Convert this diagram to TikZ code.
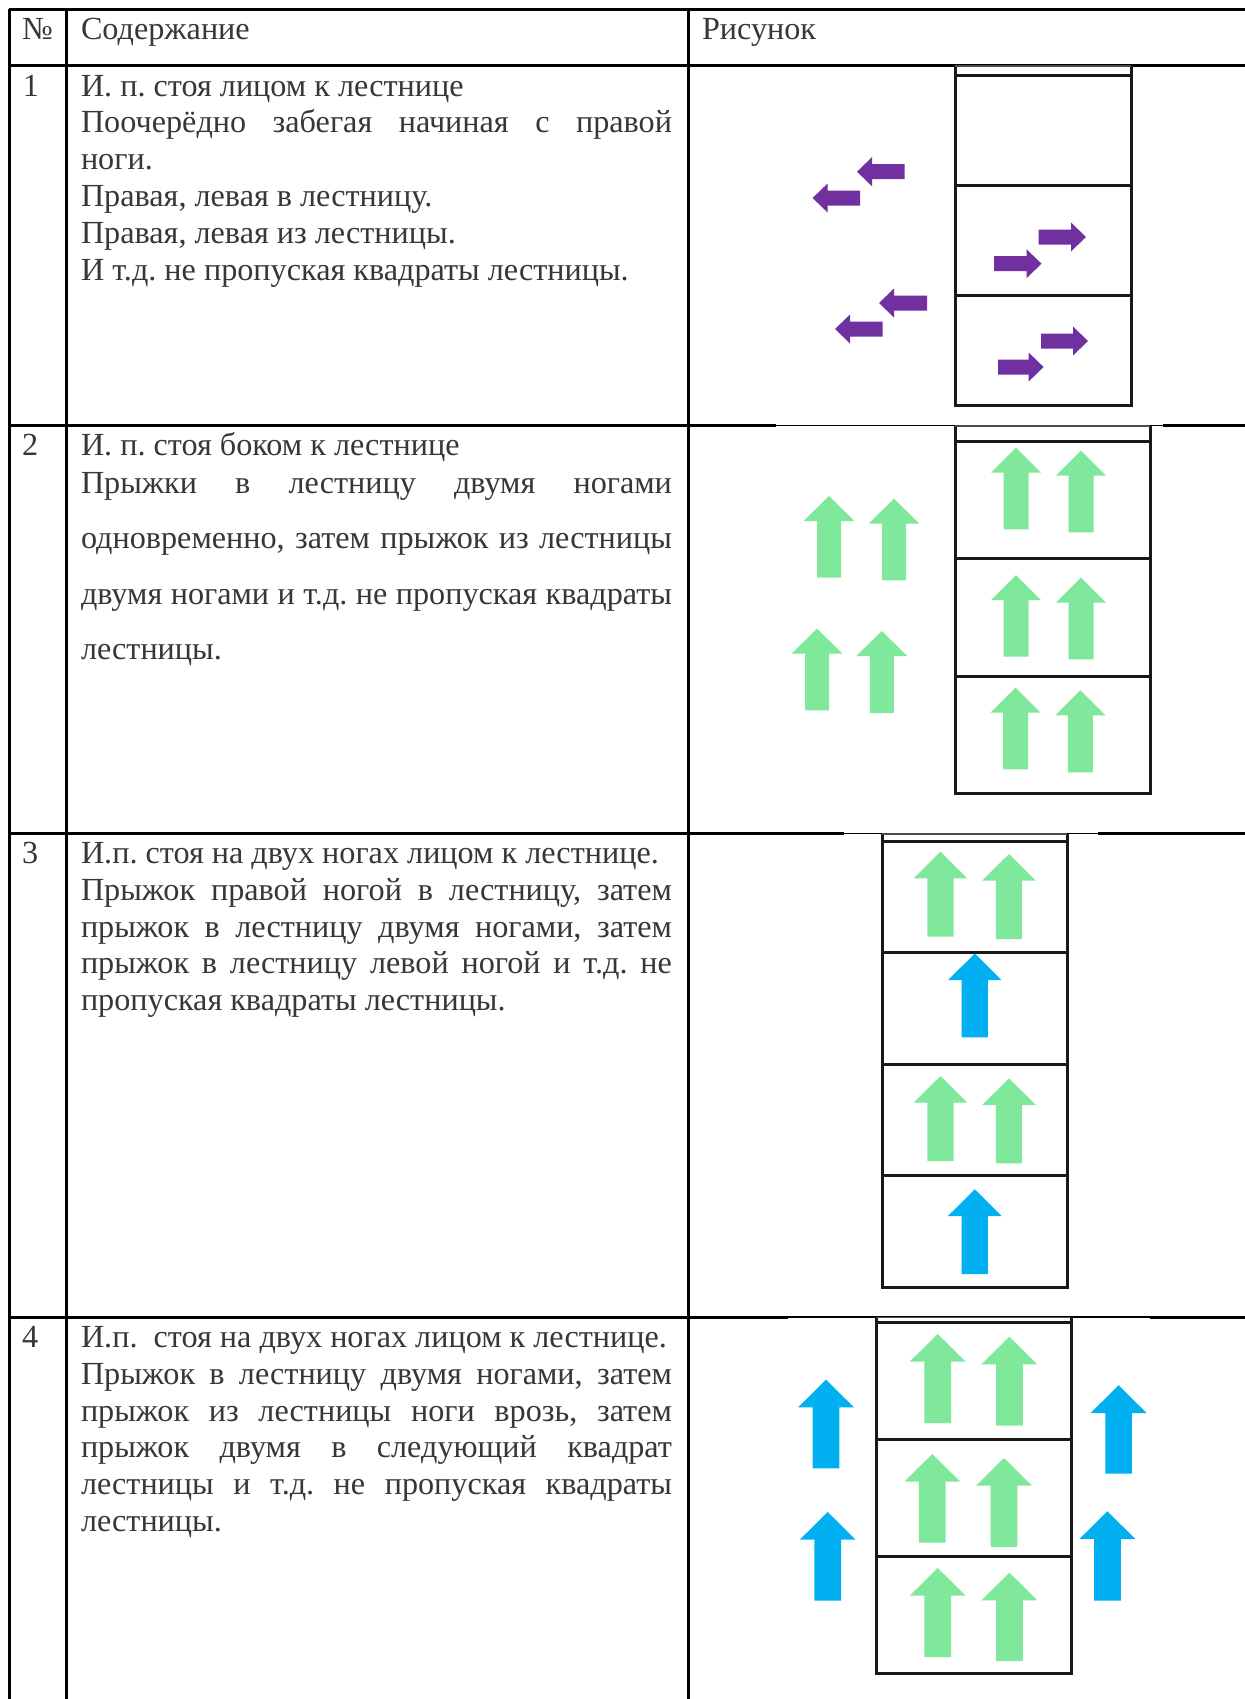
\documentclass[tikz,border=0pt]{standalone}
\usepackage{fontspec}
\setmainfont{Liberation Serif}
\frenchspacing
\definecolor{txtgray}{RGB}{55,55,55}
\definecolor{purp}{RGB}{112,48,160}
\definecolor{mint}{RGB}{128,232,155}
\definecolor{sky}{RGB}{0,176,240}
% up arrow: cx, tip y, bottom y, head width, shaft width, head length, colour
\newcommand\uparw[7]{\fill[#7] (#1,#2) -- ({#1+#4/2},{#2+#6}) -- ({#1+#5/2},{#2+#6}) -- ({#1+#5/2},#3) -- ({#1-#5/2},#3) -- ({#1-#5/2},{#2+#6}) -- ({#1-#4/2},{#2+#6}) -- cycle;}
% left arrow: tip x, tail x, y
\newcommand\larw[3]{\fill[purp] (#1,#3) -- ({#1+15},{#3-14.5}) -- ({#1+15},{#3-7.5}) -- (#2,{#3-7.5}) -- (#2,{#3+7.5}) -- ({#1+15},{#3+7.5}) -- ({#1+15},{#3+14.5}) -- cycle;}
% right arrow: tail x, tip x, y
\newcommand\rarw[3]{\fill[purp] (#2,#3) -- ({#2-15},{#3-14.5}) -- ({#2-15},{#3-7.5}) -- (#1,{#3-7.5}) -- (#1,{#3+7.5}) -- ({#2-15},{#3+7.5}) -- ({#2-15},{#3+14.5}) -- cycle;}
\newcommand\gTwo[3]{\uparw{#1}{#2}{#3}{50}{25}{25}{mint}}
\newcommand\gThree[4]{\uparw{#1}{#2}{#3}{53.7}{26.3}{26.7}{#4}}
\newcommand\gFour[4]{\uparw{#1}{#2}{#3}{56}{26.7}{27.7}{#4}}
\newcommand\jline[1]{\makebox[295.5pt][s]{#1}}
% ladder frame without a heavy top edge: x1, x2, top y, bottom y
\newcommand\ladframe[4]{\draw[ladder] (#1,#3) -- (#1,#4) -- (#2,#4) -- (#2,#3);\draw[line width=0.6pt,black!70] (#1,#3) -- (#2,#3);}
\begin{document}
\begin{tikzpicture}[x=0.5pt,y=-0.5pt,
  grid/.style={line width=1.5pt,black},
  thin grid/.style={line width=0.6pt,black},
  ladder/.style={line width=1.5pt,black!90},
  txt/.style={anchor=base west,inner sep=0pt,outer sep=0pt,text=txtgray,
    font=\fontsize{16.1}{18}\selectfont}]
\useasboundingbox (0,0) rectangle (1245,1699);
\fill[white] (0,0) rectangle (1245,1699);
% ---------- table grid ----------
\draw[grid] (9,9) -- (1245,9);
\draw[grid] (9,65) -- (1245,65);
\draw[grid] (9,425.5) -- (776,425.5);
\draw[thin grid] (776,425.5) -- (1163,425.5);
\draw[grid] (1163,425.5) -- (1245,425.5);
\draw[grid] (9,833.5) -- (844,833.5);
\draw[thin grid] (844,833.5) -- (1098,833.5);
\draw[grid] (1098,833.5) -- (1245,833.5);
\draw[grid] (9,1317) -- (788,1317);
\draw[thin grid] (788,1317) -- (1150,1317);
\draw[grid] (1150,1317) -- (1245,1317);
\draw[grid] (9,9) -- (9,1699);
\draw[grid] (66,9) -- (66,1699);
\draw[grid] (688,9) -- (688,1699);
% ---------- header ----------
\node[txt] (hno) at (22,39) {№};
\node[txt] (hcont) at (81,39) {Содержание};
\node[txt] (hpic) at (702,39) {Рисунок};
% ---------- row 1 ----------
\node[txt] (n1) at (23,96) {1};
\node[txt] (r1a) at (81,96) {И. п. стоя лицом к лестнице};
\node[txt] (r1b) at (81,132.8) {\jline{Поочерёдно забегая начиная с правой}};
\node[txt] (r1c) at (81,169.6) {ноги.};
\node[txt] (r1d) at (81,206.4) {Правая, левая в лестницу.};
\node[txt] (r1e) at (81,243.2) {Правая, левая из лестницы.};
\node[txt] (r1f) at (81,280) {И т.д. не пропуская квадраты лестницы.};
\ladframe{955}{1131}{66}{405}
\draw[ladder] (955,75) -- (1131,75);
\draw[ladder] (955,185) -- (1131,185);
\draw[ladder] (955,295) -- (1131,295);
\larw{857}{904.5}{171.7}
\larw{812.6}{860}{198}
\larw{879}{927}{303}
\larw{835}{882.5}{329}
\rarw{1038.5}{1086}{237}
\rarw{994}{1041.5}{263.7}
\rarw{1041}{1088}{341}
\rarw{998}{1043.6}{367}
% ---------- row 2 ----------
\node[txt] (n2) at (22,455.5) {2};
\node[txt] (r2a) at (81,455.5) {И. п. стоя боком к лестнице};
\node[txt] (r2b) at (81,493.4) {\jline{Прыжки в лестницу двумя ногами}};
\node[txt] (r2c) at (81,548.7) {\jline{одновременно, затем прыжок из лестницы}};
\node[txt] (r2d) at (81,604) {\jline{двумя ногами и т.д. не пропуская квадраты}};
\node[txt] (r2e) at (81,659.3) {лестницы.};
\ladframe{955}{1150}{426}{793}
\draw[ladder] (955,441) -- (1150,441);
\draw[ladder] (955,558) -- (1150,558);
\draw[ladder] (955,676) -- (1150,676);
\gTwo{1016}{447.7}{529.3}
\gTwo{1081}{450.7}{532.3}
\gTwo{1016}{575}{656.7}
\gTwo{1081}{577.7}{659.3}
\gTwo{1015.5}{687.7}{769.3}
\gTwo{1080.4}{690.3}{772.3}
\uparw{829}{496}{577.7}{51}{24}{25}{mint}
\uparw{894}{498.7}{580.3}{51}{24}{25}{mint}
\uparw{817}{628.7}{710.3}{51}{24}{25}{mint}
\uparw{881.8}{631}{713}{51}{24}{25}{mint}
% ---------- row 3 ----------
\node[txt] (n3) at (22,863.5) {3};
\node[txt] (r3a) at (81,863.5) {И.п. стоя на двух ногах лицом к лестнице.};
\node[txt] (r3b) at (81,900.3) {\jline{Прыжок правой ногой в лестницу, затем}};
\node[txt] (r3c) at (81,937.1) {\jline{прыжок в лестницу двумя ногами, затем}};
\node[txt] (r3d) at (81,973.9) {\jline{прыжок в лестницу левой ногой и т.д. не}};
\node[txt] (r3e) at (81,1010.7) {пропуская квадраты лестницы.};
\ladframe{882}{1067}{834}{1287}
\draw[ladder] (882,841.3) -- (1067,841.3);
\draw[ladder] (882,952.3) -- (1067,952.3);
\draw[ladder] (882,1064) -- (1067,1064);
\draw[ladder] (882,1175.7) -- (1067,1175.7);
\gThree{940.5}{851.7}{936.7}{mint}
\gThree{1009}{854}{939}{mint}
\gThree{974.8}{953.5}{1037.3}{sky}
\gThree{940.5}{1076}{1161}{mint}
\gThree{1009}{1078.3}{1163.3}{mint}
\gThree{974.8}{1189.3}{1274}{sky}
% ---------- row 4 ----------
\node[txt] (n4) at (22,1347.5) {4};
\node[txt] (r4a) at (81,1347.5) {И.п.\ \ стоя на двух ногах лицом к лестнице.};
\node[txt] (r4b) at (81,1384.3) {\jline{Прыжок в лестницу двумя ногами, затем}};
\node[txt] (r4c) at (81,1421.1) {\jline{прыжок из лестницы ноги врозь, затем}};
\node[txt] (r4d) at (81,1457.9) {\jline{прыжок двумя в следующий квадрат}};
\node[txt] (r4e) at (81,1494.7) {\jline{лестницы и т.д. не пропуская квадраты}};
\node[txt] (r4f) at (81,1531.5) {лестницы.};
\ladframe{876}{1071}{1317.5}{1673}
\draw[ladder] (876,1322) -- (1071,1322);
\draw[ladder] (876,1439) -- (1071,1439);
\draw[ladder] (876,1556) -- (1071,1556);
\gFour{937.7}{1334}{1423}{mint}
\gFour{1009.4}{1336.7}{1425.7}{mint}
\gFour{932.3}{1454}{1542.7}{mint}
\gFour{1004}{1458}{1547}{mint}
\gFour{937.7}{1568}{1657}{mint}
\gFour{1009.4}{1572.7}{1661}{mint}
\gFour{826}{1379.7}{1468.3}{sky}
\gFour{827.7}{1512}{1600.7}{sky}
\gFour{1118.6}{1385.3}{1473.7}{sky}
\gFour{1107.4}{1511.3}{1600.7}{sky}
\end{tikzpicture}
\end{document}
